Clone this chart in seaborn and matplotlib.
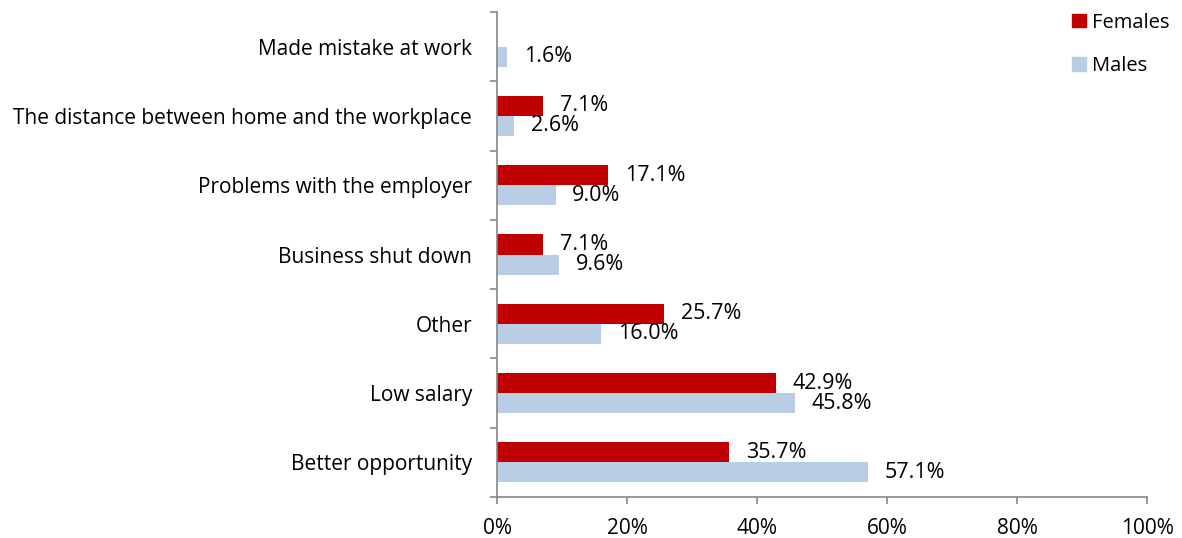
import seaborn as sns
import matplotlib.pyplot as plt
import pandas as pd
import numpy as np
from matplotlib.ticker import FixedLocator, PercentFormatter
from matplotlib.patches import Patch

categories = ["Made mistake at work",
              "The distance between home and the workplace",
              "Problems with the employer",
              "Business shut down",
              "Other",
              "Low salary",
              "Better opportunity"]
females = [np.nan, 7.1, 17.1, 7.1, 25.7, 42.9, 35.7]
males = [1.6, 2.6, 9.0, 9.6, 16.0, 45.8, 57.1]

df = pd.DataFrame({
    "reason": categories * 2,
    "value": females + males,
    "sex": ["Females"] * len(categories) + ["Males"] * len(categories),
})

sns.set_style("white")
plt.rcParams["font.family"] = ["Open Sans", "DejaVu Sans"]
plt.rcParams["text.color"] = "black"
plt.rcParams["xtick.color"] = "#868686"
plt.rcParams["ytick.color"] = "#868686"
plt.rcParams["xtick.labelcolor"] = "black"
plt.rcParams["ytick.labelcolor"] = "black"

colors = {"Females": "#C00000", "Males": "#B9CDE5"}
fig = plt.figure(figsize=(11.82, 5.38), dpi=100)
ax = fig.add_axes([0.4205, 0.0762, 0.5499, 0.9015])

sns.barplot(data=df, y="reason", x="value", hue="sex", order=categories,
            hue_order=["Females", "Males"], palette=colors, orient="h",
            width=0.58, saturation=1, linewidth=0, ax=ax, legend=False)

for cont in ax.containers:
    labels = ["" if np.isnan(v) else f"{v:.1f}%" for v in cont.datavalues]
    ax.bar_label(cont, labels=labels, padding=12, fontsize=15.5, color="black")

ax.set_xlim(0, 100)
ax.set_ylim(len(categories) - 0.5, -0.5)
ax.xaxis.set_major_locator(FixedLocator([0, 20, 40, 60, 80, 100]))
ax.xaxis.set_major_formatter(PercentFormatter(decimals=0))
ax.set_yticks(range(len(categories)))
ax.set_yticklabels(categories)
ax.yaxis.set_minor_locator(FixedLocator(np.arange(-0.5, len(categories), 1)))
ax.tick_params(axis="y", which="major", left=True, length=0, pad=18, labelsize=15)
ax.tick_params(axis="y", which="minor", left=True, length=5, width=1.2)
ax.tick_params(axis="x", which="major", bottom=True, length=5, width=1.2,
               labelsize=15, pad=10)
ax.set_xlabel("")
ax.set_ylabel("")
for s in ["top", "right"]:
    ax.spines[s].set_visible(False)
for s in ["left", "bottom"]:
    ax.spines[s].set_color("#868686")
    ax.spines[s].set_linewidth(1.2)

handles = [Patch(color=colors["Females"], label="Females"),
           Patch(color=colors["Males"], label="Males")]
fig.legend(handles=handles, loc="upper left", bbox_to_anchor=(0.892, 1.01),
           frameon=False, fontsize=14.5, handlelength=0.65, handleheight=0.65,
           handletextpad=0.3, labelspacing=1.15)

fig.savefig("out.png", dpi=100)
